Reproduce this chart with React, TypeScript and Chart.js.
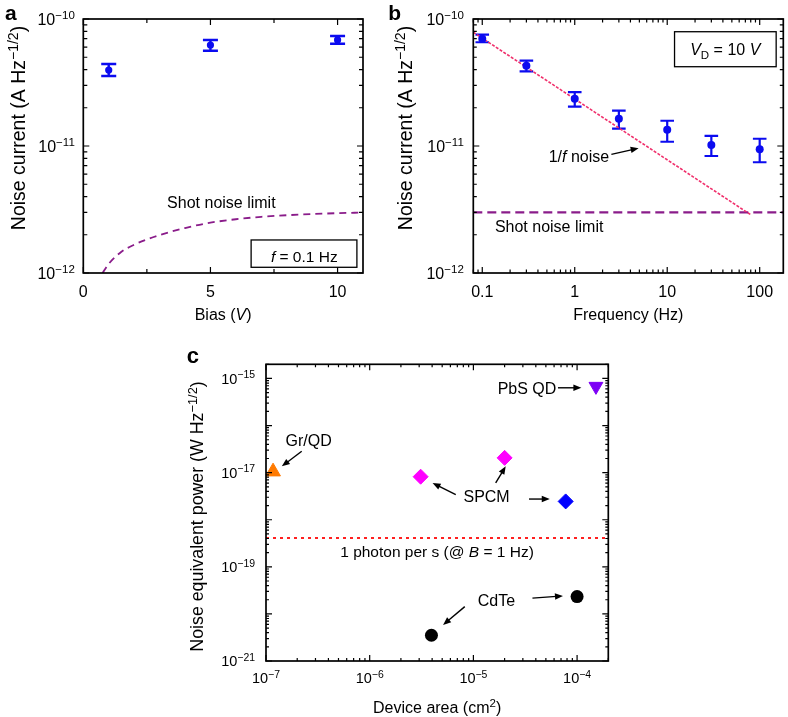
import React, { useEffect, useRef } from 'react';
import { Chart, registerables } from 'chart.js';

Chart.register(...registerables);

const FONT = '"Liberation Sans", Arial, Helvetica, sans-serif';

// ---------------- Panel a : noise current vs bias ----------------
const biasV = [1, 5, 10];
const noiseBias = [3.96e-11, 6.24e-11, 6.84e-11];
const noiseBiasHigh = [4.42e-11, 6.84e-11, 7.35e-11];
const noiseBiasLow = [3.56e-11, 5.62e-11, 6.39e-11];
const shotBiasV = [0.76, 1, 1.5, 2, 2.5, 3, 4, 5, 6, 7, 8, 9, 10, 11];
const shotBiasNoise = [1.0e-12, 1.18e-12, 1.47e-12, 1.67e-12, 1.84e-12, 1.99e-12, 2.26e-12, 2.49e-12, 2.65e-12, 2.77e-12, 2.85e-12, 2.91e-12, 2.96e-12, 2.99e-12];
const biasTickValues = [0, 5, 10];
const biasTickLabels = ['0', '5', '10'];
const biasMinorTicks = [2.5, 7.5];
const currentDecades = [-12, -11, -10];

// ---------------- Panel b : noise current vs frequency ----------------
const freqHz = [0.1, 0.3, 1, 3, 10, 30, 100];
const noiseFreq = [7.0e-11, 4.29e-11, 2.36e-11, 1.64e-11, 1.34e-11, 1.02e-11, 9.42e-12];
const noiseFreqHigh = [7.52e-11, 4.7e-11, 2.66e-11, 1.9e-11, 1.58e-11, 1.2e-11, 1.14e-11];
const noiseFreqLow = [6.56e-11, 3.87e-11, 2.04e-11, 1.37e-11, 1.08e-11, 8.34e-12, 7.45e-12];
const flickerFreq = [0.08, 81];
const flickerNoise = [7.86e-11, 2.86e-12];
const shotFreq = [0.08, 180];
const shotFreqNoise = [3.0e-12, 3.0e-12];
const freqTickValues = [0.1, 1, 10, 100];
const freqTickLabels = ['0.1', '1', '10', '100'];

// ---------------- Panel c : NEP vs device area ----------------
const grqdArea = [1.17e-7];
const grqdNEP = [1.05e-17];
const spcmArea = [3.1e-6, 2.0e-5];
const spcmNEP = [8.2e-18, 2.06e-17];
const spcmBlueArea = [7.76e-5];
const spcmBlueNEP = [2.45e-18];
const pbsArea = [1.52e-4];
const pbsNEP = [6.8e-16];
const cdteArea = [3.94e-6, 1.0e-4];
const cdteNEP = [3.52e-21, 2.33e-20];
const photonArea = [1e-7, 2e-4];
const photonNEP = [4.07e-19, 4.07e-19];
const areaDecades = [-7, -6, -5, -4];
const nepLabelDecades = [-21, -19, -17, -15];

type Seg = { t: string; it?: boolean; sup?: boolean; sub?: boolean; b?: boolean };

function segFont(s: Seg, size: number) {
  const fs = s.sup || s.sub ? size * 0.72 : size;
  return `${s.it ? 'italic ' : ''}${s.b ? 'bold ' : ''}${fs}px ${FONT}`;
}
function richWidth(ctx: CanvasRenderingContext2D, segs: Seg[], size: number) {
  let w = 0;
  for (const s of segs) {
    ctx.font = segFont(s, size);
    w += ctx.measureText(s.t).width;
  }
  return w;
}
function drawRich(ctx: CanvasRenderingContext2D, segs: Seg[], x: number, y: number, size: number, align: string = 'left', color = '#000') {
  const w = richWidth(ctx, segs, size);
  let cx = align === 'left' ? x : align === 'center' ? x - w / 2 : x - w;
  ctx.save();
  ctx.fillStyle = color;
  ctx.textAlign = 'left';
  ctx.textBaseline = 'alphabetic';
  for (const s of segs) {
    ctx.font = segFont(s, size);
    const dy = s.sup ? -size * 0.38 : s.sub ? size * 0.25 : 0;
    ctx.fillText(s.t, cx, y + dy);
    cx += ctx.measureText(s.t).width;
  }
  ctx.restore();
}
function drawRotatedTitle(ctx: CanvasRenderingContext2D, segs: Seg[], cx: number, cy: number, size: number) {
  ctx.save();
  ctx.translate(cx, cy);
  ctx.rotate(-Math.PI / 2);
  drawRich(ctx, segs, 0, size * 0.358, size, 'center');
  ctx.restore();
}
function decadeLabel(e: number): Seg[] {
  return [{ t: '10' }, { t: (e < 0 ? '\u2212' : '') + Math.abs(e), sup: true }];
}
function logTicks(minExp: number, maxExp: number, lo: number, hi: number) {
  const out: { value: number; major: boolean }[] = [];
  for (let e = minExp; e <= maxExp; e++) {
    for (let m = 1; m <= 9; m++) {
      const v = m * Math.pow(10, e);
      if (v >= lo * 0.9999 && v <= hi * 1.0001) out.push({ value: v, major: m === 1 });
    }
  }
  return out;
}
function drawFrameAndTicks(chart: any, majorLen: number, minorLen: number) {
  const { ctx, chartArea } = chart;
  const { left, right, top, bottom } = chartArea;
  const X = chart.scales.x;
  const Y = chart.scales.y;
  ctx.save();
  ctx.strokeStyle = '#000';
  ctx.lineWidth = 1.2;
  ctx.setLineDash([]);
  ctx.beginPath();
  for (const t of X.ticks) {
    const p = X.getPixelForValue(t.value);
    if (p < left - 0.5 || p > right + 0.5) continue;
    const L = t.major ? majorLen : minorLen;
    ctx.moveTo(p, bottom);
    ctx.lineTo(p, bottom - L);
    ctx.moveTo(p, top);
    ctx.lineTo(p, top + L);
  }
  for (const t of Y.ticks) {
    const p = Y.getPixelForValue(t.value);
    if (p < top - 0.5 || p > bottom + 0.5) continue;
    const L = t.major ? majorLen : minorLen;
    ctx.moveTo(left, p);
    ctx.lineTo(left + L, p);
    ctx.moveTo(right, p);
    ctx.lineTo(right - L, p);
  }
  ctx.stroke();
  ctx.lineWidth = 1.7;
  ctx.strokeRect(left, top, right - left, bottom - top);
  ctx.restore();
}
function drawErrorBars(chart: any, xs: number[], lows: number[], highs: number[], color: string, capHalf: number, lw: number) {
  const { ctx } = chart;
  const X = chart.scales.x;
  const Y = chart.scales.y;
  ctx.save();
  ctx.strokeStyle = color;
  ctx.lineWidth = lw;
  ctx.setLineDash([]);
  ctx.beginPath();
  xs.forEach((xv, i) => {
    const px = X.getPixelForValue(xv);
    const y1 = Y.getPixelForValue(highs[i]);
    const y2 = Y.getPixelForValue(lows[i]);
    ctx.moveTo(px, y1);
    ctx.lineTo(px, y2);
    ctx.moveTo(px - capHalf, y1);
    ctx.lineTo(px + capHalf, y1);
    ctx.moveTo(px - capHalf, y2);
    ctx.lineTo(px + capHalf, y2);
  });
  ctx.stroke();
  ctx.restore();
}
function drawArrow(ctx: CanvasRenderingContext2D, x1: number, y1: number, x2: number, y2: number) {
  const head = 8;
  const half = 3.2;
  const a = Math.atan2(y2 - y1, x2 - x1);
  const c = Math.cos(a);
  const s = Math.sin(a);
  ctx.save();
  ctx.strokeStyle = '#000';
  ctx.fillStyle = '#000';
  ctx.lineWidth = 1.4;
  ctx.setLineDash([]);
  ctx.beginPath();
  ctx.moveTo(x1, y1);
  ctx.lineTo(x2 - head * 0.8 * c, y2 - head * 0.8 * s);
  ctx.stroke();
  ctx.beginPath();
  ctx.moveTo(x2, y2);
  ctx.lineTo(x2 - head * c - half * s, y2 - head * s + half * c);
  ctx.lineTo(x2 - head * c + half * s, y2 - head * s - half * c);
  ctx.closePath();
  ctx.fill();
  ctx.restore();
}
function dataArrow(chart: any, a: number[]) {
  const X = chart.scales.x;
  const Y = chart.scales.y;
  drawArrow(chart.ctx, X.getPixelForValue(a[0]), Y.getPixelForValue(a[1]), X.getPixelForValue(a[2]), Y.getPixelForValue(a[3]));
}
function dataText(chart: any, segs: Seg[], x: number, y: number, size: number, align: string) {
  drawRich(chart.ctx, segs, chart.scales.x.getPixelForValue(x), chart.scales.y.getPixelForValue(y), size, align);
}
function dataBox(chart: any, x1: number, y1: number, x2: number, y2: number) {
  const X = chart.scales.x;
  const Y = chart.scales.y;
  const l = X.getPixelForValue(x1);
  const r = X.getPixelForValue(x2);
  const t = Y.getPixelForValue(y1);
  const b = Y.getPixelForValue(y2);
  const ctx = chart.ctx;
  ctx.save();
  ctx.fillStyle = '#fff';
  ctx.fillRect(l, t, r - l, b - t);
  ctx.strokeStyle = '#000';
  ctx.lineWidth = 1.3;
  ctx.setLineDash([]);
  ctx.strokeRect(l, t, r - l, b - t);
  ctx.restore();
}

type Spec = {
  xType: string;
  yType: string;
  xMin: number;
  xMax: number;
  yMin: number;
  yMax: number;
  xTicks: { value: number; major: boolean }[];
  yTicks: { value: number; major: boolean }[];
  yAxisWidth: number;
  xAxisHeight: number;
  padding: { top: number; right: number; left: number; bottom: number };
  datasets: any[];
  under?: (c: any) => void;
  draw: (c: any) => void;
};

function makeConfig(s: Spec): any {
  return {
    type: 'scatter',
    data: { datasets: s.datasets },
    options: {
      animation: false,
      responsive: false,
      maintainAspectRatio: false,
      devicePixelRatio: 1,
      events: [],
      layout: { padding: s.padding },
      plugins: { legend: { display: false }, tooltip: { enabled: false }, title: { display: false } },
      scales: {
        x: {
          type: s.xType,
          position: 'bottom',
          min: s.xMin,
          max: s.xMax,
          bounds: 'data',
          grid: { display: false },
          border: { display: false },
          ticks: { display: false },
          afterBuildTicks: (sc: any) => {
            sc.ticks = s.xTicks.map((t) => ({ ...t }));
          },
          afterFit: (sc: any) => {
            sc.height = s.xAxisHeight;
          },
        },
        y: {
          type: s.yType,
          position: 'left',
          min: s.yMin,
          max: s.yMax,
          bounds: 'data',
          grid: { display: false },
          border: { display: false },
          ticks: { display: false },
          afterBuildTicks: (sc: any) => {
            sc.ticks = s.yTicks.map((t) => ({ ...t }));
          },
          afterFit: (sc: any) => {
            sc.width = s.yAxisWidth;
          },
        },
      },
    },
    plugins: [
      {
        id: 'panelDeco',
        beforeDatasetsDraw: (c: any) => {
          if (s.under) s.under(c);
        },
        afterDraw: (c: any) => s.draw(c),
      },
    ],
  };
}

const BLUE = '#0b0bf0';
const PURPLE = '#8a1c8a';
const NOISE_TITLE: Seg[] = [{ t: 'Noise current (A Hz' }, { t: '\u22121/2', sup: true }, { t: ')' }];

function configA() {
  return makeConfig({
    xType: 'linear',
    yType: 'logarithmic',
    xMin: 0,
    xMax: 11,
    yMin: 1e-12,
    yMax: 1e-10,
    xTicks: [...biasTickValues.map((v) => ({ value: v, major: true })), ...biasMinorTicks.map((v) => ({ value: v, major: false }))],
    yTicks: logTicks(-12, -10, 1e-12, 1e-10),
    yAxisWidth: 83.3,
    xAxisHeight: 57,
    padding: { top: 19, right: 31, left: 0, bottom: 0 },
    datasets: [
      {
        label: 'Noise current',
        data: biasV.map((x, i) => ({ x, y: noiseBias[i] })),
        showLine: false,
        pointRadius: 3.6,
        pointBackgroundColor: BLUE,
        pointBorderWidth: 0,
      },
      {
        label: 'Shot noise limit',
        data: shotBiasV.map((x, i) => ({ x, y: shotBiasNoise[i] })),
        showLine: true,
        borderColor: PURPLE,
        borderWidth: 1.8,
        borderDash: [7, 5],
        pointRadius: 0,
        cubicInterpolationMode: 'monotone',
        fill: false,
      },
    ],
    under: (c) => drawErrorBars(c, biasV, noiseBiasLow, noiseBiasHigh, BLUE, 7.5, 2.4),
    draw: (c) => {
      const { ctx, chartArea } = c;
      const X = c.scales.x;
      const Y = c.scales.y;
      drawFrameAndTicks(c, 6, 4);
      biasTickValues.forEach((v, i) => drawRich(ctx, [{ t: biasTickLabels[i] }], X.getPixelForValue(v), chartArea.bottom + 23.5, 16, 'center'));
      currentDecades.forEach((e) => drawRich(ctx, decadeLabel(e), chartArea.left - 8.5, Y.getPixelForValue(Math.pow(10, e)) + 5.7, 16, 'right'));
      drawRich(ctx, [{ t: 'Bias (' }, { t: 'V', it: true }, { t: ')' }], (chartArea.left + chartArea.right) / 2, chartArea.bottom + 46.5, 16, 'center');
      drawRotatedTitle(ctx, NOISE_TITLE, 18, 128, 19.5);
      dataText(c, [{ t: 'Shot noise limit' }], 5.43, 3.23e-12, 16, 'center');
      dataBox(c, 6.6, 1.82e-12, 10.76, 1.109e-12);
      dataText(c, [{ t: 'f', it: true }, { t: ' = 0.1 Hz' }], 8.69, 1.23e-12, 15.5, 'center');
      drawRich(ctx, [{ t: 'a', b: true }], 5, 20, 21, 'left');
    },
  });
}

function configB() {
  return makeConfig({
    xType: 'logarithmic',
    yType: 'logarithmic',
    xMin: 0.08,
    xMax: 180,
    yMin: 1e-12,
    yMax: 1e-10,
    xTicks: logTicks(-2, 2, 0.08, 180),
    yTicks: logTicks(-12, -10, 1e-12, 1e-10),
    yAxisWidth: 93.3,
    xAxisHeight: 57,
    padding: { top: 19, right: 4.7, left: 0, bottom: 0 },
    datasets: [
      {
        label: 'Noise current',
        data: freqHz.map((x, i) => ({ x, y: noiseFreq[i] })),
        showLine: false,
        pointRadius: 4,
        pointBackgroundColor: BLUE,
        pointBorderWidth: 0,
      },
      {
        label: '1/f noise',
        data: flickerFreq.map((x, i) => ({ x, y: flickerNoise[i] })),
        showLine: true,
        borderColor: '#f0306c',
        borderWidth: 1.6,
        borderDash: [3, 1.5],
        pointRadius: 0,
        fill: false,
      },
      {
        label: 'Shot noise limit',
        data: shotFreq.map((x, i) => ({ x, y: shotFreqNoise[i] })),
        showLine: true,
        borderColor: PURPLE,
        borderWidth: 2.2,
        borderDash: [9, 5],
        pointRadius: 0,
        fill: false,
      },
    ],
    under: (c) => drawErrorBars(c, freqHz, noiseFreqLow, noiseFreqHigh, BLUE, 6.8, 2.2),
    draw: (c) => {
      const { ctx, chartArea } = c;
      const X = c.scales.x;
      const Y = c.scales.y;
      drawFrameAndTicks(c, 6, 3.5);
      freqTickValues.forEach((v, i) => drawRich(ctx, [{ t: freqTickLabels[i] }], X.getPixelForValue(v), chartArea.bottom + 23.5, 16, 'center'));
      currentDecades.forEach((e) => drawRich(ctx, decadeLabel(e), chartArea.left - 9.5, Y.getPixelForValue(Math.pow(10, e)) + 5.7, 16, 'right'));
      drawRich(ctx, [{ t: 'Frequency (Hz)' }], (chartArea.left + chartArea.right) / 2, chartArea.bottom + 46.5, 16, 'center');
      drawRotatedTitle(ctx, NOISE_TITLE, 25, 128, 19.5);
      dataBox(c, 12.0, 7.94e-11, 150.7, 4.21e-11);
      dataText(c, [{ t: 'V', it: true }, { t: 'D', sub: true }, { t: ' = 10 ' }, { t: 'V', it: true }], 42.4, 5.2e-11, 16, 'center');
      dataText(c, [{ t: '1/' }, { t: 'f', it: true }, { t: ' noise' }], 1.11, 7.51e-12, 16, 'center');
      dataArrow(c, [2.49, 8.6e-12, 4.91, 9.6e-12]);
      dataText(c, [{ t: 'Shot noise limit' }], 0.137, 2.11e-12, 16, 'left');
      drawRich(ctx, [{ t: 'b', b: true }], 8.3, 20, 21, 'left');
    },
  });
}

function configC() {
  return makeConfig({
    xType: 'logarithmic',
    yType: 'logarithmic',
    xMin: 1e-7,
    xMax: 2e-4,
    yMin: 1e-21,
    yMax: 2e-15,
    xTicks: logTicks(-7, -4, 1e-7, 2e-4),
    yTicks: logTicks(-21, -15, 1e-21, 2e-15),
    yAxisWidth: 86,
    xAxisHeight: 56,
    padding: { top: 34.3, right: 21.7, left: 0, bottom: 0 },
    datasets: [
      {
        label: 'Gr/QD',
        data: grqdArea.map((x, i) => ({ x, y: grqdNEP[i] })),
        pointStyle: 'triangle',
        pointRadius: 8.5,
        pointBackgroundColor: '#ff7a00',
        pointBorderColor: '#ff7a00',
        pointBorderWidth: 1,
      },
      {
        label: 'SPCM',
        data: spcmArea.map((x, i) => ({ x, y: spcmNEP[i] })),
        pointStyle: 'rectRot',
        pointRadius: 7.5,
        pointBackgroundColor: '#ff00ff',
        pointBorderColor: '#ff00ff',
        pointBorderWidth: 1,
      },
      {
        label: 'SPCM (blue)',
        data: spcmBlueArea.map((x, i) => ({ x, y: spcmBlueNEP[i] })),
        pointStyle: 'rectRot',
        pointRadius: 7.5,
        pointBackgroundColor: '#0000ff',
        pointBorderColor: '#0000ff',
        pointBorderWidth: 1,
      },
      {
        label: 'PbS QD',
        data: pbsArea.map((x, i) => ({ x, y: pbsNEP[i] })),
        pointStyle: 'triangle',
        rotation: 180,
        pointRotation: 180,
        pointRadius: 8,
        pointBackgroundColor: '#7d00f5',
        pointBorderColor: '#7d00f5',
        pointBorderWidth: 1,
      },
      {
        label: 'CdTe',
        data: cdteArea.map((x, i) => ({ x, y: cdteNEP[i] })),
        pointStyle: 'circle',
        pointRadius: 6.5,
        pointBackgroundColor: '#000',
        pointBorderColor: '#000',
        pointBorderWidth: 0,
      },
      {
        label: '1 photon per s',
        data: photonArea.map((x, i) => ({ x, y: photonNEP[i] })),
        showLine: true,
        borderColor: '#ff2020',
        borderWidth: 2,
        borderDash: [3, 4],
        pointRadius: 0,
        fill: false,
      },
    ],
    draw: (c) => {
      const { ctx, chartArea } = c;
      const X = c.scales.x;
      const Y = c.scales.y;
      drawFrameAndTicks(c, 6, 3);
      areaDecades.forEach((e) => drawRich(ctx, decadeLabel(e), X.getPixelForValue(Math.pow(10, e)), chartArea.bottom + 22.3, 14.5, 'center'));
      nepLabelDecades.forEach((e) => drawRich(ctx, decadeLabel(e), chartArea.left - 11, Y.getPixelForValue(Math.pow(10, e)) + 5.2, 14.5, 'right'));
      drawRich(ctx, [{ t: 'Device area (cm' }, { t: '2', sup: true }, { t: ')' }], (chartArea.left + chartArea.right) / 2, chartArea.bottom + 52.2, 16, 'center');
      drawRotatedTitle(ctx, [{ t: 'Noise equivalent power (W Hz' }, { t: '\u22121/2', sup: true }, { t: ')' }], 17, 186.5, 17.8);
      dataText(c, [{ t: 'PbS QD' }], 6.31e-5, 4.57e-16, 16, 'right');
      dataArrow(c, [6.54e-5, 6.34e-16, 1.10e-4, 6.34e-16]);
      dataText(c, [{ t: 'Gr/QD' }], 2.58e-7, 3.75e-17, 16, 'center');
      dataArrow(c, [2.21e-7, 2.84e-17, 1.42e-7, 1.36e-17]);
      dataText(c, [{ t: 'SPCM' }], 1.34e-5, 2.33e-18, 16, 'center');
      dataArrow(c, [6.76e-6, 3.4e-18, 4.04e-6, 6.04e-18]);
      dataArrow(c, [1.64e-5, 6.04e-18, 2.05e-5, 1.36e-17]);
      dataArrow(c, [3.44e-5, 2.75e-18, 5.45e-5, 2.75e-18]);
      dataText(c, [{ t: '1 photon per s (@ ' }, { t: 'B', it: true }, { t: ' = 1 Hz)' }], 4.46e-6, 1.63e-19, 15.5, 'center');
      dataText(c, [{ t: 'CdTe' }], 1.67e-5, 1.48e-20, 16, 'center');
      dataArrow(c, [8.26e-6, 1.43e-20, 5.1e-6, 5.83e-21]);
      dataArrow(c, [3.71e-5, 2.16e-20, 7.31e-5, 2.41e-20]);
      drawRich(ctx, [{ t: 'c', b: true }], 6.7, 33.3, 22, 'left');
    },
  });
}

function Panel(props: { make: () => any; left: number; top: number; w: number; h: number }) {
  const ref = useRef<HTMLCanvasElement>(null);
  useEffect(() => {
    const chart = new Chart(ref.current as HTMLCanvasElement, props.make());
    return () => chart.destroy();
  }, []);
  return (
    <canvas
      ref={ref}
      width={props.w}
      height={props.h}
      style={{ position: 'absolute', left: props.left, top: props.top, width: props.w, height: props.h }}
    />
  );
}

export default function App() {
  return (
    <div style={{ position: 'absolute', left: 0, top: 0, width: 788, height: 717, background: '#fff', overflow: 'hidden' }}>
      <Panel make={configA} left={0} top={0} w={394} h={330} />
      <Panel make={configB} left={380} top={0} w={408} h={330} />
      <Panel make={configC} left={180} top={330} w={450} h={387} />
    </div>
  );
}
